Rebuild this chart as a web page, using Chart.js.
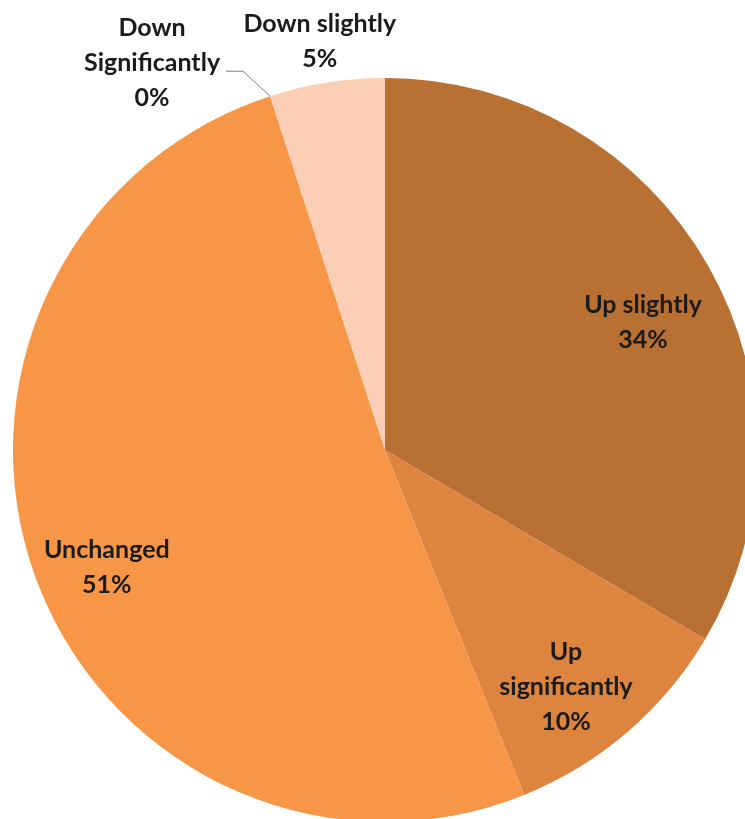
<!DOCTYPE html>
<html>
<head>
<meta charset="utf-8">
<script src="https://cdn.jsdelivr.net/npm/chart.js@4"></script>
<style>
  html, body { margin: 0; padding: 0; background: #fff; overflow: hidden; }
  #wrap { position: absolute; left: 0; top: 0; width: 770px; height: 830px; }
</style>
</head>
<body>
<div id="wrap"><canvas id="pie"></canvas></div>
<script>
// categories + values (percent of respondents)
const categories = ['Up slightly', 'Up significantly', 'Unchanged', 'Down Significantly', 'Down slightly'];
const values = [33.5, 10.4, 51.1, 0, 5];
const labelLines = [['Up slightly'], ['Up', 'significantly'], ['Unchanged'], ['Down', 'Significantly'], ['Down slightly']];
const sliceColors = ['#B97033', '#DD843F', '#F79646', '#F9B98A', '#FBCEB6'];

// draws the "Name\nNN%" labels like excel data labels
const pieLabels = {
  id: 'pieLabels',
  afterDatasetsDraw(chart, args, opts) {
    const ctx = chart.ctx;
    const arcs = chart.getDatasetMeta(0).data;
    ctx.save();
    ctx.font = 'bold 25px Lato, "Liberation Sans", sans-serif';
    ctx.fillStyle = '#1b1b1b';
    ctx.textAlign = 'center';
    ctx.textBaseline = 'middle';
    arcs.forEach((arc, i) => {
      const p = arc.getProps(['x', 'y', 'startAngle', 'endAngle', 'outerRadius'], true);
      const mid = (p.startAngle + p.endAngle) / 2;
      const f = opts.radius[i];
      const shift = opts.shift[i];
      const x = p.x + Math.cos(mid) * p.outerRadius * f + shift[0];
      const y = p.y + Math.sin(mid) * p.outerRadius * f + shift[1];
      const lines = labelLines[i].concat([Math.round(values[i]) + '%']);
      if (opts.leader[i]) {
        // leader line from label to the edge of the empty slice
        const ex = p.x + Math.cos(mid) * p.outerRadius;
        const ey = p.y + Math.sin(mid) * p.outerRadius;
        const w = Math.max(...lines.map(t => ctx.measureText(t).width));
        ctx.strokeStyle = '#7f7f7f';
        ctx.lineWidth = 1;
        ctx.beginPath();
        ctx.moveTo(x + w / 2 + 6, y + 8);
        ctx.lineTo(x + w / 2 + 23, y + 8);
        ctx.lineTo(ex, ey);
        ctx.stroke();
      }
      const lh = 35;
      lines.forEach((t, k) => {
        ctx.fillText(t, x, y + (k - (lines.length - 1) / 2) * lh);
      });
    });
    ctx.restore();
  }
};

new Chart(document.getElementById('pie'), {
  type: 'pie',
  data: {
    labels: categories,
    datasets: [{
      data: values,
      backgroundColor: sliceColors,
      borderWidth: 0
    }]
  },
  options: {
    responsive: true,
    maintainAspectRatio: false,
    animation: false,
    layout: { padding: { left: 13, top: 78, right: 13, bottom: 8 } },
    plugins: {
      legend: { display: false },
      tooltip: { enabled: false },
      pieLabels: {
        radius: [0.78, 0.8, 0.81, 1.0, 1.12],
        shift: [[6, 16], [-13, 11], [5, 14], [-118, -33], [0, 3]],
        leader: [false, false, false, true, false]
      }
    }
  },
  plugins: [pieLabels]
});
</script>
</body>
</html>
